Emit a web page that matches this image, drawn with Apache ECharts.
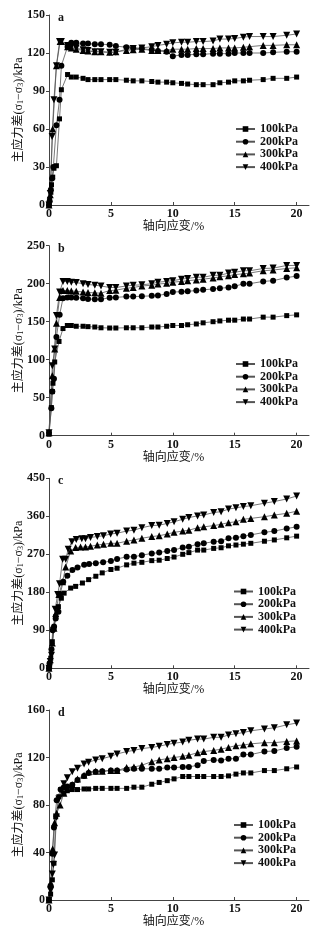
<!DOCTYPE html>
<html>
<head>
<meta charset="utf-8">
<script src="https://cdn.jsdelivr.net/npm/echarts@6/dist/echarts.min.js"></script>
<style>
html,body{margin:0;padding:0;background:#fff;}
#chart{width:330px;height:934px;}
</style>
</head>
<body>
<div id="chart"></div>
<script>
// ---- data: [axial strain %, deviatoric stress kPa] ----
const seriesNames = ['100kPa', '200kPa', '300kPa', '400kPa'];
const panelLabels = ['a', 'b', 'c', 'd'];
const yMax = [150, 250, 450, 160];
const yStep = [30, 50, 90, 40];
const xTicks = [0, 5, 10, 15, 20];

const a100 = [[0,0],[0.05,4],[0.15,10],[0.2,16],[0.3,22],[0.4,29],[0.6,31],[0.85,68],[1.0,91],[1.5,103],[1.8,101],[2.2,101],[2.75,100],[3.15,99],[3.7,99],[4.2,99],[4.9,99],[5.4,99],[6.25,98.5],[6.8,98],[7.5,98],[8.3,97.5],[8.8,97],[9.5,97],[10.0,96.5],[10.7,96],[11.2,95.5],[11.9,95],[12.45,95],[13.25,95],[13.8,96.5],[14.5,97],[15,98],[15.7,98],[16.2,98.5],[17.3,99],[18.1,100],[19.2,100],[20,101]];
const a200 = [[0,0],[0.05,3],[0.15,12],[0.25,21],[0.35,30],[0.6,63],[0.85,83],[1.0,110],[1.5,125],[1.8,128],[2.2,128],[2.75,127.5],[3.15,127.5],[3.7,127],[4.2,127],[4.9,126.5],[5.4,125.5],[6.25,124.5],[6.8,124],[7.5,123.5],[8.3,122.5],[8.8,121.5],[9.5,121],[10.0,117.5],[10.7,118.5],[11.2,118.5],[11.9,119],[12.45,119],[13.25,119.5],[13.8,119.5],[14.5,119.5],[15,120],[15.7,120],[16.2,120],[17.3,120],[18.1,120.5],[19.2,121],[20,121]];
const a300 = [[0,0],[0.1,8],[0.3,60],[0.6,110],[0.9,129],[1.0,129],[1.5,125],[1.8,124],[2.2,123],[2.75,122],[3.15,121.5],[3.7,121],[4.2,121],[4.9,120.5],[5.4,121],[6.25,122],[6.8,122.5],[7.5,123],[8.3,122],[8.8,122],[9.5,122],[10.0,123],[10.7,123],[11.2,123],[11.9,123.5],[12.45,123.5],[13.25,123.5],[13.8,124],[14.5,124],[15,124],[15.7,124.5],[16.2,125],[17.3,126],[18.1,126],[19.2,126.5],[20,126.5]];
const a400 = [[0,0],[0.1,9],[0.25,54],[0.4,83],[0.6,110],[0.85,129],[1.0,129],[1.5,126],[1.8,125],[2.2,124],[2.75,122.5],[3.15,122],[3.7,121],[4.2,121],[4.9,120.5],[5.4,120.5],[6.25,123],[6.8,123.5],[7.5,124],[8.3,125],[8.8,126],[9.5,127],[10.0,128],[10.7,128.5],[11.2,128.5],[11.9,129],[12.45,129],[13.25,129.5],[13.8,131],[14.5,131],[15,131.5],[15.7,132.5],[16.2,133],[17.3,133],[18.1,133],[19.2,134],[20,135]];

const b100 = [[0,2],[0.19,37],[0.27,58],[0.32,69],[0.46,97],[0.81,124],[1.13,141],[1.48,145],[1.8,145],[2.2,144],[2.75,144],[3.15,143.5],[3.7,143],[4.2,142],[4.9,141.7],[5.4,141.7],[6.25,142],[6.8,142],[7.5,142],[8.3,143],[8.8,143],[9.5,144],[10,145],[10.7,145],[11.2,146],[11.9,147],[12.45,148.5],[13.25,150],[13.8,151],[14.5,152],[15,152],[15.7,153.5],[16.2,153.5],[17.3,156],[18.1,156],[19.2,158],[20,159]];
const b200 = [[0,4],[0.19,36],[0.27,58],[0.4,75],[0.6,130],[0.86,159],[1.13,181],[1.48,182],[1.8,182],[2.2,181.5],[2.75,181],[3.15,180],[3.7,179.5],[4.2,179.5],[4.9,181.5],[5.4,182],[6.25,183],[6.8,183],[7.5,183.5],[8.3,184],[8.8,184.5],[9.5,186.5],[10,189],[10.7,189.5],[11.2,190],[11.9,191],[12.45,192],[13.25,193],[13.8,194],[14.5,195],[15,196.5],[15.7,200],[16.2,200],[17.3,203],[18.1,204],[19.2,208],[20,210]];
const b300 = [[0,4],[0.27,79],[0.46,114],[0.6,148],[0.86,182],[1.13,191],[1.48,191],[1.8,190.5],[2.2,190],[2.75,189],[3.15,188.5],[3.7,188],[4.2,187.5],[4.9,191],[5.4,191.5],[6.25,194],[6.8,195],[7.5,197],[8.3,198],[8.8,199.5],[9.5,200.5],[10,202],[10.7,203],[11.2,204],[11.9,205],[12.45,206],[13.25,207.5],[13.8,209],[14.5,210.5],[15,212],[15.7,213],[16.2,214],[17.3,217],[18.1,218],[19.2,220],[20,221]];
const b400 = [[0,4],[0.27,92],[0.46,114],[0.6,158],[0.86,189],[1.13,203],[1.48,203],[1.8,202],[2.2,201.5],[2.75,200],[3.15,199],[3.7,198],[4.2,197],[4.9,195],[5.4,195],[6.25,197],[6.8,198],[7.5,198.5],[8.3,200],[8.8,202],[9.5,203],[10,204],[10.7,206],[11.2,207],[11.9,208.5],[12.45,208.5],[13.25,211],[13.8,211],[14.5,214],[15,215],[15.7,217],[16.2,217],[17.3,220],[18.1,220.5],[19.2,224],[20,224]];

const c100 = [[0,0],[0.05,4],[0.14,24],[0.27,63],[0.41,95],[0.54,122],[0.76,146],[1.0,166],[1.22,178],[1.75,190],[2.15,194],[2.7,202],[3.2,210],[3.78,218],[4.3,226],[5.0,234],[5.5,237],[6.27,245],[6.86,249],[7.5,251],[8.3,255],[8.9,256],[9.55,260],[10.1,263.5],[10.8,270],[11.3,274],[12,280],[12.5,280],[13.3,284],[13.9,285.5],[14.5,290],[15.1,292],[15.7,294],[16.3,296],[17.4,301],[18.2,304],[19.2,309],[20,313]];
const c200 = [[0,0],[0.05,12],[0.2,45],[0.3,90],[0.41,99],[0.54,118],[0.76,134],[0.9,176],[1.15,205],[1.48,219],[1.89,233],[2.3,239],[2.84,245],[3.24,247],[3.78,249],[4.37,251],[5.0,254],[5.5,259],[6.27,264],[6.86,264],[7.5,268],[8.3,272],[8.9,274],[9.55,278],[10.1,280],[10.8,286],[11.3,288],[12,294],[12.5,296],[13.3,300],[13.9,301],[14.5,308],[15.1,309],[15.7,313],[16.3,316],[17.4,322],[18.2,325],[19.2,331],[20,335]];
const c300 = [[0,0],[0.1,20],[0.27,60],[0.4,95],[0.54,130],[0.8,175],[1.1,205],[1.35,240],[1.75,278],[2.15,286],[2.55,287],[2.95,287],[3.35,289],[3.9,292],[4.4,294],[5.0,296],[5.5,296],[6.27,301],[6.86,304],[7.5,308],[8.3,312],[8.9,314],[9.55,318],[10.1,322],[10.8,325],[11.3,327],[12,333],[12.5,335],[13.3,338],[13.9,341],[14.5,345],[15.1,347],[15.7,353],[16.3,355],[17.4,359],[18.2,363],[19.2,367],[20,372]];
const c400 = [[0,0],[0.1,16],[0.2,31],[0.35,90],[0.5,140],[0.7,175],[0.85,200],[1.1,258],[1.35,258],[1.55,282],[1.85,300],[2.2,305],[2.65,307],[2.95,307],[3.35,310],[3.9,312],[4.4,314],[4.98,318],[5.5,320],[6.27,325],[6.86,327],[7.5,333],[8.3,338],[8.9,339],[9.55,343],[10.1,347],[10.8,353],[11.3,357],[12,361],[12.5,363],[13.3,369],[13.9,371],[14.5,377],[15.1,380],[15.7,383],[16.3,385],[17.4,391],[18.2,395],[19.2,401],[20,408]];

const d100 = [[0,0],[0.13,5],[0.27,17],[0.4,31],[0.54,70],[0.8,87],[1.2,90],[1.48,92],[1.88,93],[2.3,93],[2.83,93.5],[3.2,93.5],[3.77,94],[4.3,94],[5,94],[5.5,94],[6.27,94],[6.86,95],[7.5,95],[8.3,97.5],[8.9,99],[9.55,100.5],[10.1,102],[10.8,104],[11.3,104],[12,104],[12.5,104],[13.3,104],[13.9,104],[14.5,104.5],[15.1,106],[15.7,107],[16.3,107],[17.4,109],[18.2,109],[19.2,110.5],[20,112]];
const d200 = [[0,0],[0.13,12],[0.27,39],[0.4,61],[0.62,84],[0.94,93],[1.2,95],[1.48,95.5],[1.88,97],[2.3,101],[2.83,104.5],[3.2,107],[3.77,108],[4.3,108.5],[5,109],[5.5,109],[6.27,110],[6.86,110.5],[7.5,110.5],[8.3,110.5],[8.9,110.5],[9.55,111.5],[10.1,111.5],[10.8,112],[11.3,112],[12,113.5],[12.5,117],[13.3,118],[13.9,117.5],[14.5,119],[15.1,119],[15.7,122.5],[16.3,122.5],[17.4,125],[18.2,125.5],[19.2,128],[20,129]];
const d300 = [[0,0],[0.13,14],[0.3,43],[0.45,65],[0.62,73],[0.9,80],[1.2,90],[1.48,94],[1.88,97],[2.3,102],[2.83,105],[3.2,108],[3.77,108.5],[4.3,108.5],[5,109],[5.5,109],[6.27,111.5],[6.86,112],[7.5,113.5],[8.3,116.5],[8.9,118],[9.55,119],[10.1,120],[10.8,121],[11.3,122],[12,124],[12.5,125],[13.3,126],[13.9,127],[14.5,128.5],[15.1,130],[15.7,130.5],[16.3,131.5],[17.4,132.5],[18.2,132.5],[19.2,133.5],[20,134]];
const d400 = [[0,0],[0.13,8],[0.27,22],[0.35,30],[0.45,38],[0.6,70],[0.8,85],[1.0,92],[1.2,98],[1.48,103],[1.88,108],[2.3,111],[2.83,114.5],[3.2,116],[3.77,118],[4.3,119],[5,121],[5.5,123],[6.27,125],[6.86,126],[7.5,127.5],[8.3,128.5],[8.9,129.5],[9.55,131],[10.1,132],[10.8,133],[11.3,134.5],[12,135.5],[12.5,135.5],[13.3,137],[13.9,137],[14.5,139],[15.1,140],[15.7,141],[16.3,142.5],[17.4,144],[18.2,145],[19.2,147.5],[20,149]];

const panelData = [[a100,a200,a300,a400],[b100,b200,b300,b400],[c100,c200,c300,c400],[d100,d200,d300,d400]];

// ---- layout / style ----
const gridTops = [15, 245.7, 478.3, 710];
const gridH = 190;
const legendTops = [123, 358, 585.5, 819];
const legendLefts = [235, 235, 233, 233];
const serif = '"Liberation Serif","Noto Sans CJK SC",serif';
const symbols = ['rect', 'circle', 'triangle', 'path://M0,0 L10,0 L5,9 Z'];
const symSizes = [5, 6, 7, 7];

const option = {
  animation: false,
  backgroundColor: '#fff',
  grid: [], xAxis: [], yAxis: [], series: [], legend: [], graphic: []
};

for (let p = 0; p < 4; p++) {
  option.grid.push({left: 49, top: gridTops[p], width: 260, height: gridH, containLabel: false, outerBoundsMode: 'none'});
  option.xAxis.push({
    type: 'value', gridIndex: p, min: 0, max: 21, interval: 5,
    name: '轴向应变/%', nameLocation: 'middle', nameGap: 16, nameMoveOverlap: false,
    nameTextStyle: {fontFamily: serif, fontSize: 12, color: '#111', padding: [0, 11, 0, 0]},
    axisLine: {lineStyle: {color: '#444', width: 1}},
    axisTick: {show: true, inside: true, length: 3, lineStyle: {color: '#444'}, customValues: xTicks},
    axisLabel: {fontFamily: serif, fontWeight: 'bold', fontSize: 12, color: '#111', margin: 3,
      customValues: xTicks,
      formatter: v => (v % 5 === 0 ? String(v) : '')},
    splitLine: {show: false}
  });
  option.yAxis.push({
    type: 'value', gridIndex: p, min: 0, max: yMax[p], interval: yStep[p],
    name: '主应力差(σ{s|1}−σ{s|3})/kPa', nameLocation: 'middle', nameGap: 24, nameRotate: 90,
    nameMoveOverlap: false,
    nameTextStyle: {fontFamily: serif, fontSize: 12, color: '#111',
      rich: {s: {fontFamily: serif, fontSize: 8, color: '#111', verticalAlign: 'bottom', padding: [4, 0, 0, 0]}}},
    axisLine: {show: true, lineStyle: {color: '#444', width: 1}},
    axisTick: {show: true, inside: false, length: 3, lineStyle: {color: '#444'}},
    axisLabel: {fontFamily: serif, fontWeight: 'bold', fontSize: 12, color: '#111', margin: 4},
    splitLine: {show: false}
  });
  for (let s = 0; s < 4; s++) {
    option.series.push({
      type: 'line', name: seriesNames[s], xAxisIndex: p, yAxisIndex: p,
      data: panelData[p][s],
      symbol: symbols[s], symbolSize: symSizes[s], showAllSymbol: true,
      lineStyle: {color: '#555', width: 0.8},
      itemStyle: {color: '#000'},
      emphasis: {disabled: true}
    });
  }
  option.legend.push({
    orient: 'vertical', left: legendLefts[p], top: legendTops[p],
    itemWidth: 19, itemHeight: 7, itemGap: 0.7,
    padding: 0,
    data: seriesNames,
    textStyle: {fontFamily: serif, fontWeight: 'bold', fontSize: 12, color: '#111', lineHeight: 12}
  });
  option.graphic.push({
    type: 'text', left: 58, top: gridTops[p] - 3,
    style: {text: panelLabels[p], font: 'bold 12px "Liberation Serif", serif', fill: '#111'}
  });
}

const chart = echarts.init(document.getElementById('chart'), null, {renderer: 'canvas'});
chart.setOption(option);
</script>
</body>
</html>
